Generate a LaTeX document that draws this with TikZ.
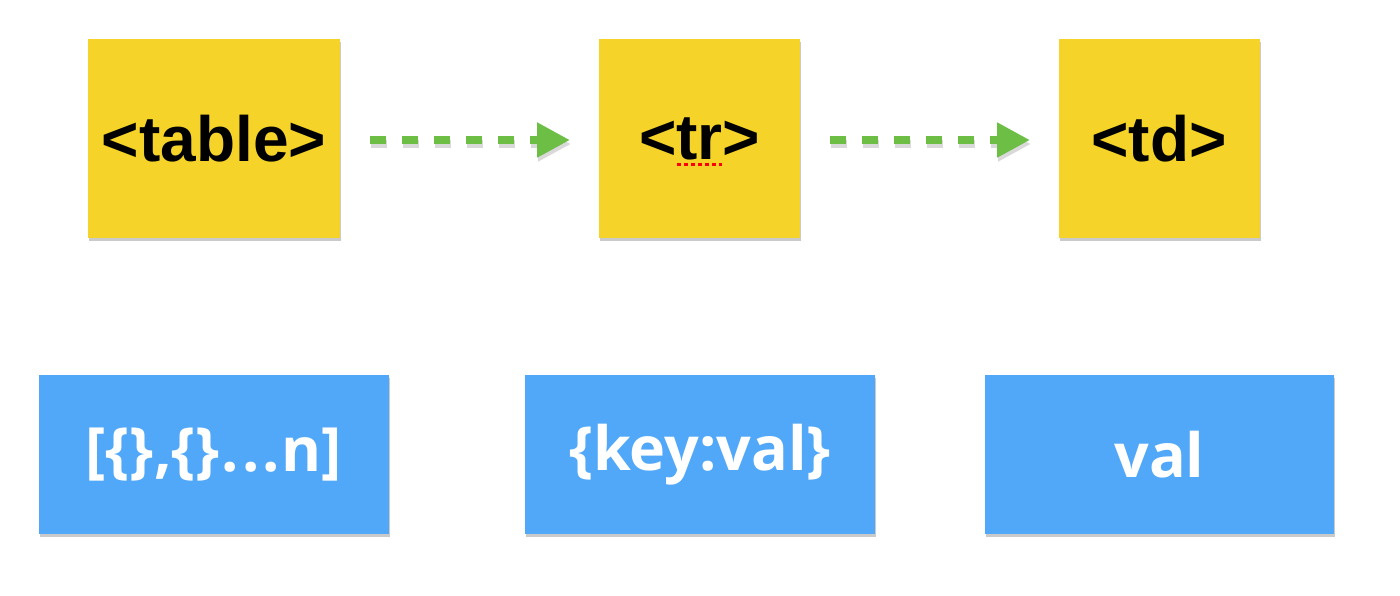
\documentclass[tikz,border=0pt]{standalone}
\usepackage{fontspec}
\setmainfont{Liberation Sans}
\newfontfamily\bluefont{Open Sans}
\usetikzlibrary{arrows.meta,shadows}
\definecolor{tagyellow}{HTML}{F5D328}
\definecolor{valblue}{HTML}{52A8F8}
\definecolor{arrgreen}{HTML}{6DBE45}
\tikzset{
  tagbox/.style={fill=tagyellow, draw=none, inner sep=0pt, minimum width=201pt, minimum height=199pt,
    font=\fontsize{64}{64}\selectfont\bfseries, text=black,
    drop shadow={shadow xshift=1pt, shadow yshift=-3pt, opacity=0.35, fill=black!60}},
  valbox/.style={fill=valblue, draw=none, inner sep=0pt, minimum width=350pt, minimum height=159pt,
    font=\bluefont\fontsize{61}{61}\selectfont\bfseries, text=white,
    drop shadow={shadow xshift=1pt, shadow yshift=-3pt, opacity=0.35, fill=black!60}},
  flow/.style={draw=arrgreen, line width=8pt, dash pattern=on 16pt off 16pt,
    -{Triangle[length=33pt,width=33pt]},
    preaction={draw=black, opacity=0.15, line width=8pt, dash pattern=on 16pt off 16pt,
      -{Triangle[length=33pt,width=33pt]}, transform canvas={shift={(1pt,-4pt)}}}},
  squiggle/.style={draw=red, line width=3pt, dash pattern=on 4pt off 3pt}
}
\begin{document}
\begin{tikzpicture}[x=1pt,y=-1pt]
\useasboundingbox (0,0) rectangle (1400,596);
\node[tagbox, minimum width=252pt] (table) at (214,138.5) {<table>};
\node[tagbox] (tr) at (699.5,138.5) {<tr>};
\node[tagbox] (td) at (1159,138.5) {<td>};
\node[valbox] (v1) at (214,454.5) {\raisebox{-2pt}{[\{\},\{\}\kern2pt.\kern3pt.\kern3pt.\kern2pt n]}};
\node[valbox] (v2) at (700,454.5) {\raisebox{-2pt}{\{key:val\}}};
\node[valbox, minimum width=349pt] (v3) at (1159.5,454.5) {\raisebox{-2pt}{val}};
\coordinate (a1s) at (370,140);
\coordinate (a1e) at (570,140);
\coordinate (a2s) at (830,140);
\coordinate (a2e) at (1030,140);
\draw[flow] (a1s) -- (a1e);
\draw[flow] (a2s) -- (a2e);
\coordinate (u1) at (677,164.5);
\coordinate (u2) at (722,164.5);
\draw[squiggle] (u1) -- (u2);
\end{tikzpicture}
\end{document}
